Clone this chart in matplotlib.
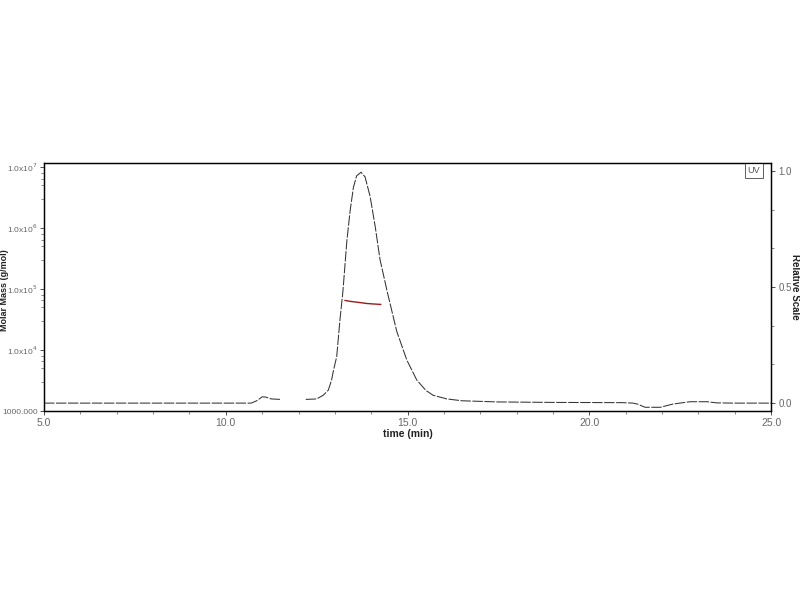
import numpy as np
import matplotlib
matplotlib.use("Agg")
import matplotlib.pyplot as plt
from matplotlib.ticker import FixedLocator, LogLocator, NullFormatter

plt.rcParams["font.family"] = ["Liberation Sans", "DejaVu Sans"]

# UV trace (relative scale), NaN marks the gap in the trace
uv_time = [5.0, 10.7, 10.85, 11.0, 11.1, 11.25, 11.5, np.nan,
           12.2, 12.5, 12.68, 12.82, 12.91, 12.96, 13.05, 13.14, 13.22, 13.33,
           13.42, 13.51, 13.60, 13.72, 13.83, 13.97, 14.11, 14.24, 14.44, 14.70,
           14.98, 15.25, 15.50, 15.70, 16.08, 16.5, 17.5, 19.0, 20.9, 21.2,
           21.34, 21.53, 21.95, 22.30, 22.77, 23.23, 23.5, 24.0, 25.0]
uv_value = [0.0, 0.0, 0.01, 0.027, 0.026, 0.018, 0.016, np.nan,
            0.016, 0.018, 0.034, 0.056, 0.10, 0.14, 0.20, 0.36, 0.48, 0.70,
            0.83, 0.93, 0.98, 0.995, 0.975, 0.89, 0.76, 0.62, 0.48, 0.31,
            0.185, 0.10, 0.055, 0.034, 0.018, 0.01, 0.005, 0.003, 0.002, 0.0,
            -0.005, -0.018, -0.018, -0.004, 0.006, 0.006, 0.001, 0.0, 0.0]

# molar mass across the peak
mm_time = [13.28, 13.45, 13.6, 13.88, 14.05, 14.26]
mm_value = [6.5e4, 6.25e4, 6.1e4, 5.8e4, 5.7e4, 5.6e4]

xticks = [5, 10, 15, 20, 25]
xtick_labels = ["5.0", "10.0", "15.0", "20.0", "25.0"]
yticks = [1e3, 1e4, 1e5, 1e6, 1e7]
ytick_labels = ["1000.000", r"1.0x10$^{4}$", r"1.0x10$^{5}$", r"1.0x10$^{6}$", r"1.0x10$^{7}$"]
rticks = [0.0, 0.5, 1.0]
rtick_labels = ["0.0", "0.5", "1.0"]

tick_col = "#666666"

fig = plt.figure(figsize=(8, 6), dpi=100)
ax = fig.add_axes([0.055, 0.315, 0.909, 0.413])
ax2 = ax.twinx()

ax2.plot(uv_time, uv_value, color="#333333", lw=0.75, dashes=(10, 1.5))
ax.plot(mm_time, mm_value, color="#9b1c1c", lw=1.0, zorder=5)
ax.set_zorder(ax2.get_zorder() + 1)
ax.patch.set_visible(False)

ax.set_xlim(5, 25)
ax.set_yscale("log")
ax.set_ylim(1000, 1.16e7)
ax2.set_ylim(-0.034, 1.034)

ax.set_xticks(xticks)
ax.set_xticklabels(xtick_labels)
ax.xaxis.set_minor_locator(FixedLocator(np.arange(5, 26, 1)))
ax.set_yticks(yticks)
ax.set_yticklabels(ytick_labels)
ax.yaxis.set_minor_locator(LogLocator(base=10, subs=(3, 5, 6.5, 8)))
ax.yaxis.set_minor_formatter(NullFormatter())
ax2.set_yticks(rticks)
ax2.set_yticklabels(rtick_labels)
ax2.yaxis.set_minor_locator(FixedLocator([1 / 6, 2 / 6, 4 / 6, 5 / 6]))

for a in (ax, ax2):
    a.tick_params(which="major", length=3, width=0.6, color="#333333",
                  labelsize=7.5, labelcolor=tick_col, pad=2)
    a.tick_params(which="minor", length=2, width=0.5, color="#555555")
    for s in a.spines.values():
        s.set_color("black")
        s.set_linewidth(0.9)
ax.tick_params(axis="y", which="major", labelsize=6, pad=1.5)
ax2.tick_params(axis="y", which="major", labelsize=7, pad=2)

ax.set_xlabel("time (min)", fontsize=7.5, fontweight="bold", color="#222222", labelpad=1)
fig.text(5 / 800, 1 - 290 / 600, "Molar Mass (g/mol)", rotation=90, ha="center", va="center",
         fontsize=6.5, fontweight="bold", color="#222222")
fig.text(795 / 800, 1 - 287 / 600, "Relative Scale", rotation=270, ha="center", va="center",
         fontsize=7, fontweight="bold", color="#222222")

ax2.text(0.985, 0.99, "UV", transform=ax2.transAxes, ha="right", va="top",
         fontsize=6.5, color="#555555",
         bbox=dict(boxstyle="square,pad=0.35", fc="white", ec="#444444", lw=0.6))

fig.savefig("out.png", dpi=100)
